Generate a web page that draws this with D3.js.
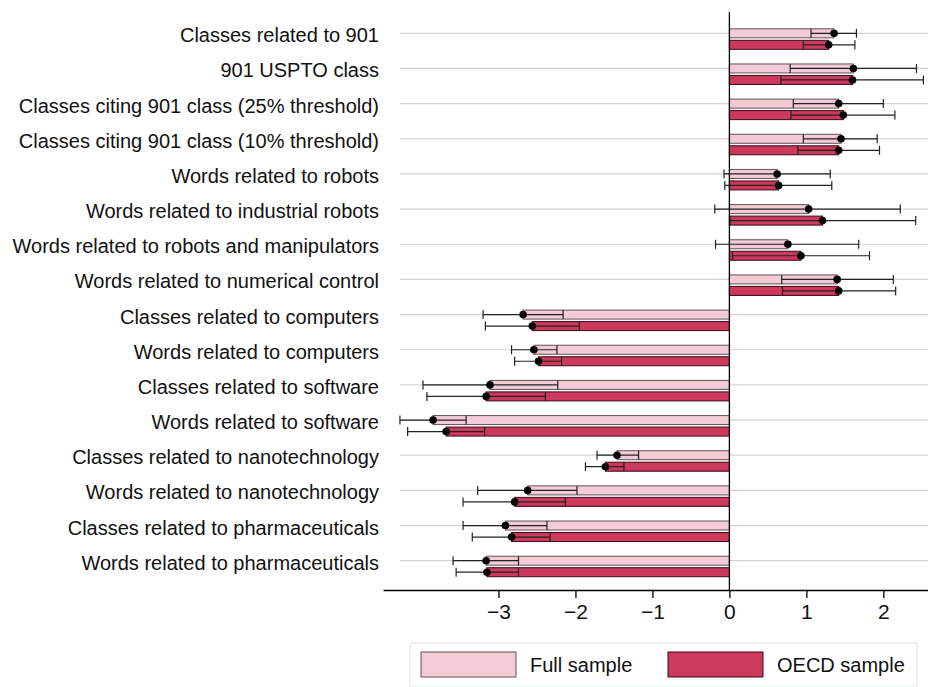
<!DOCTYPE html>
<html>
<head>
<meta charset="utf-8">
<script src="https://cdn.jsdelivr.net/npm/d3@7"></script>
<style>
  body { margin: 0; background: #fff; }
  text { font-family: "Liberation Sans", Arial, sans-serif; fill: #111; }
</style>
</head>
<body>
<div id="chart"></div>
<script>
// categories, top to bottom
const categories = [
  "Classes related to 901",
  "901 USPTO class",
  "Classes citing 901 class (25% threshold)",
  "Classes citing 901 class (10% threshold)",
  "Words related to robots",
  "Words related to industrial robots",
  "Words related to robots and manipulators",
  "Words related to numerical control",
  "Classes related to computers",
  "Words related to computers",
  "Classes related to software",
  "Words related to software",
  "Classes related to nanotechnology",
  "Words related to nanotechnology",
  "Classes related to pharmaceuticals",
  "Words related to pharmaceuticals"
];

// point estimates and confidence bounds
const fullEst = [1.36, 1.61, 1.42, 1.45, 0.62, 1.03, 0.76, 1.40, -2.68, -2.54, -3.11, -3.85, -1.46, -2.62, -2.91, -3.16];
const fullLo  = [1.06, 0.79, 0.83, 0.96, -0.07, -0.19, -0.18, 0.68, -3.20, -2.83, -3.98, -4.28, -1.72, -3.27, -3.46, -3.59];
const fullHi  = [1.65, 2.43, 2.00, 1.92, 1.31, 2.22, 1.68, 2.13, -2.16, -2.24, -2.23, -3.42, -1.18, -1.98, -2.37, -2.74];

const oecdEst = [1.29, 1.60, 1.48, 1.42, 0.64, 1.21, 0.93, 1.42, -2.56, -2.48, -3.16, -3.68, -1.61, -2.79, -2.83, -3.15];
const oecdLo  = [0.96, 0.67, 0.80, 0.89, -0.06, 0.01, 0.04, 0.69, -3.17, -2.79, -3.93, -4.18, -1.87, -3.46, -3.34, -3.55];
const oecdHi  = [1.63, 2.52, 2.15, 1.95, 1.33, 2.42, 1.82, 2.16, -1.95, -2.18, -2.39, -3.18, -1.37, -2.13, -2.33, -2.74];

const xTicks = [-3, -2, -1, 0, 1, 2];
const seriesNames = ["Full sample", "OECD sample"];

const width = 928, height = 687;
const lightFill = "#f2cbd5", lightStroke = "#5e5356";
const darkFill = "#cd385d", darkStroke = "#3b0814";

const svg = d3.select("#chart").append("svg")
    .attr("width", width)
    .attr("height", height);

const x = d3.scaleLinear().domain([-4.5, 2.58]).range([383, 928]);
const y = d3.scalePoint().domain(categories).range([33.3, 560.7]);

const barH = 9;
const series = [
  { name: seriesNames[0], est: fullEst, lo: fullLo, hi: fullHi, fill: lightFill, stroke: lightStroke, dy: 0 },
  { name: seriesNames[1], est: oecdEst, lo: oecdLo, hi: oecdHi, fill: darkFill, stroke: darkStroke, dy: 11.5 }
];

// gridlines
svg.append("g").selectAll("line")
  .data(categories)
  .enter().append("line")
  .attr("x1", 400).attr("x2", width)
  .attr("y1", d => y(d)).attr("y2", d => y(d))
  .attr("stroke", "#d4d4d4")
  .attr("stroke-width", 1.2);

// category labels
svg.append("g").selectAll("text")
  .data(categories)
  .enter().append("text")
  .attr("x", 379)
  .attr("y", d => y(d) + 2)
  .attr("text-anchor", "end")
  .attr("dominant-baseline", "central")
  .attr("font-size", 20)
  .text(d => d);

series.forEach(s => {
  const g = svg.append("g");
  const rows = categories.map((c, i) => ({ c: c, est: s.est[i], lo: s.lo[i], hi: s.hi[i] }));

  g.selectAll("rect")
    .data(rows)
    .enter().append("rect")
    .attr("x", d => Math.min(x(0), x(d.est)))
    .attr("width", d => Math.abs(x(d.est) - x(0)))
    .attr("y", d => y(d.c) + s.dy - barH / 2)
    .attr("height", barH)
    .attr("fill", s.fill)
    .attr("stroke", s.stroke)
    .attr("stroke-width", 1);

  // whiskers
  g.selectAll("line.w")
    .data(rows)
    .enter().append("line")
    .attr("class", "w")
    .attr("x1", d => x(d.lo)).attr("x2", d => x(d.hi))
    .attr("y1", d => y(d.c) + s.dy).attr("y2", d => y(d.c) + s.dy)
    .attr("stroke", "#222")
    .attr("stroke-width", 1.2);

  ["lo", "hi"].forEach(k => {
    g.selectAll("line.cap-" + k)
      .data(rows)
      .enter().append("line")
      .attr("class", "cap-" + k)
      .attr("x1", d => x(d[k])).attr("x2", d => x(d[k]))
      .attr("y1", d => y(d.c) + s.dy - barH / 2)
      .attr("y2", d => y(d.c) + s.dy + barH / 2)
      .attr("stroke", "#222")
      .attr("stroke-width", 1.2);
  });

  g.selectAll("circle")
    .data(rows)
    .enter().append("circle")
    .attr("cx", d => x(d.est))
    .attr("cy", d => y(d.c) + s.dy)
    .attr("r", 3.8)
    .attr("fill", "#000");
});

// zero line
svg.append("line")
  .attr("x1", x(0)).attr("x2", x(0))
  .attr("y1", 12).attr("y2", 590)
  .attr("stroke", "#000")
  .attr("stroke-width", 1.3);

// x axis
const xAxis = svg.append("g")
  .attr("transform", "translate(0,590)")
  .call(d3.axisBottom(x).tickValues(xTicks).tickSizeInner(8).tickSizeOuter(0).tickPadding(6)
    .tickFormat(d => d < 0 ? "\u2212" + Math.abs(d) : d));
xAxis.select(".domain").attr("stroke", "#000").attr("stroke-width", 1.3);
xAxis.selectAll(".tick line").attr("stroke", "#000").attr("stroke-width", 1.3);
xAxis.selectAll(".tick text")
  .attr("font-size", 21)
  .attr("font-family", "Liberation Sans, Arial, sans-serif")
  .attr("fill", "#111");

// legend
const legend = svg.append("g");
legend.append("rect")
  .attr("x", 410).attr("y", 643)
  .attr("width", 507).attr("height", 44)
  .attr("fill", "#fff")
  .attr("stroke", "#e6edf0")
  .attr("stroke-width", 1.5);

const legendX = [421, 668];
series.forEach((s, i) => {
  legend.append("rect")
    .attr("x", legendX[i]).attr("y", 652)
    .attr("width", 95).attr("height", 25)
    .attr("fill", s.fill)
    .attr("stroke", s.stroke)
    .attr("stroke-width", 1);
  legend.append("text")
    .attr("x", legendX[i] + 109)
    .attr("y", 665)
    .attr("dominant-baseline", "central")
    .attr("font-size", 20)
    .text(s.name);
});
</script>
</body>
</html>
